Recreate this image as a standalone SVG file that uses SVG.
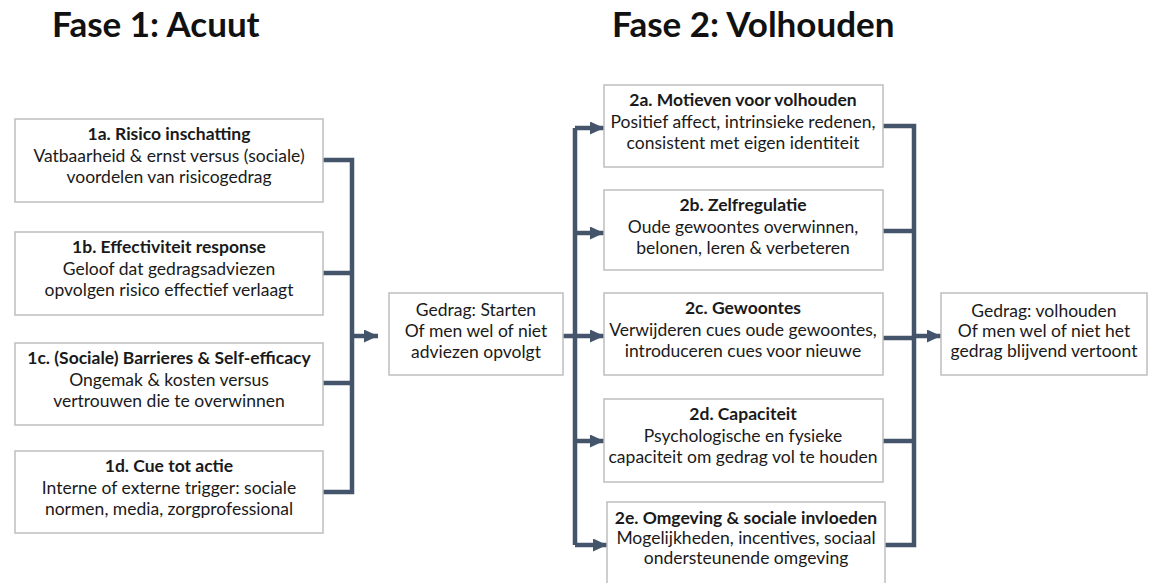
<svg xmlns="http://www.w3.org/2000/svg" width="1152" height="583" viewBox="0 0 1152 583">
<style>
.box{fill:#fff;stroke:#bfbfbf;stroke-width:1.5}
.t{font-family:Lato,"Open Sans",sans-serif;font-size:17.5px;fill:#1a1a1a;text-anchor:middle}
.b{font-weight:bold}
.h{font-family:Lato,"Open Sans",sans-serif;font-size:35px;font-weight:bold;fill:#111}
.c{fill:none;stroke:#44546a;stroke-width:4.5;stroke-linejoin:miter}
</style>
<defs>
<marker id="ah" markerUnits="userSpaceOnUse" markerWidth="14" markerHeight="13" refX="14" refY="6.5" orient="auto">
<path d="M0,0 L14,6.5 L0,13 z" fill="#44546a"/>
</marker>
</defs>
<rect width="1152" height="583" fill="#fff"/>
<text class="h" x="52" y="37">Fase 1: Acuut</text>
<text class="h" x="612" y="37">Fase 2: Volhouden</text>

<g id="connectors">
<path class="c" d="M323,160 H352 V492 H323"/>
<path class="c" d="M323,273 H352"/>
<path class="c" d="M323,383 H352"/>
<path class="c" d="M352,336 H378" marker-end="url(#ah)"/>
<path class="c" d="M563,336 H575"/>
<path class="c" d="M575,128 V545"/>
<path class="c" d="M575,128 H604" marker-end="url(#ah)"/>
<path class="c" d="M575,233 H604" marker-end="url(#ah)"/>
<path class="c" d="M575,336 H604" marker-end="url(#ah)"/>
<path class="c" d="M575,441 H604" marker-end="url(#ah)"/>
<path class="c" d="M575,545 H607" marker-end="url(#ah)"/>
<path class="c" d="M883,126 H914 V545 H885"/>
<path class="c" d="M883,231 H914"/>
<path class="c" d="M883,338 H914"/>
<path class="c" d="M883,441 H914"/>
<path class="c" d="M914,336 H941" marker-end="url(#ah)"/>
</g>

<g id="n1a">
<rect class="box" x="15" y="119" width="308" height="83"/>
<text class="t b" x="169" y="140">1a. Risico inschatting</text>
<text class="t" x="169" y="162">Vatbaarheid &amp; ernst versus (sociale)</text>
<text class="t" x="169" y="183">voordelen van risicogedrag</text>
</g>
<g id="n1b">
<rect class="box" x="15" y="232" width="308" height="83"/>
<text class="t b" x="169" y="253">1b. Effectiviteit response</text>
<text class="t" x="169" y="275">Geloof dat gedragsadviezen</text>
<text class="t" x="169" y="296">opvolgen risico effectief verlaagt</text>
</g>
<g id="n1c">
<rect class="box" x="15" y="343" width="308" height="82"/>
<text class="t b" x="169" y="364">1c. (Sociale) Barrieres &amp; Self-efficacy</text>
<text class="t" x="169" y="386">Ongemak &amp; kosten versus</text>
<text class="t" x="169" y="407">vertrouwen die te overwinnen</text>
</g>
<g id="n1d">
<rect class="box" x="15" y="451" width="308" height="82"/>
<text class="t b" x="169" y="472">1d. Cue tot actie</text>
<text class="t" x="169" y="494">Interne of externe trigger: sociale</text>
<text class="t" x="169" y="515">normen, media, zorgprofessional</text>
</g>
<g id="start">
<rect class="box" x="389" y="293" width="174" height="82"/>
<text class="t" x="476" y="316">Gedrag: Starten</text>
<text class="t" x="476" y="337">Of men wel of niet</text>
<text class="t" x="476" y="358">adviezen opvolgt</text>
</g>
<g id="n2a">
<rect class="box" x="604" y="85" width="279" height="82"/>
<text class="t b" x="743" y="106">2a. Motieven voor volhouden</text>
<text class="t" x="743" y="128">Positief affect, intrinsieke redenen,</text>
<text class="t" x="743" y="149">consistent met eigen identiteit</text>
</g>
<g id="n2b">
<rect class="box" x="604" y="190" width="279" height="80"/>
<text class="t b" x="743" y="211">2b. Zelfregulatie</text>
<text class="t" x="743" y="233">Oude gewoontes overwinnen,</text>
<text class="t" x="743" y="254">belonen, leren &amp; verbeteren</text>
</g>
<g id="n2c">
<rect class="box" x="604" y="293" width="279" height="82"/>
<text class="t b" x="743" y="314">2c. Gewoontes</text>
<text class="t" x="743" y="336">Verwijderen cues oude gewoontes,</text>
<text class="t" x="743" y="357">introduceren cues voor nieuwe</text>
</g>
<g id="n2d">
<rect class="box" x="604" y="399" width="279" height="83"/>
<text class="t b" x="743" y="420">2d. Capaciteit</text>
<text class="t" x="743" y="442">Psychologische en fysieke</text>
<text class="t" x="743" y="463">capaciteit om gedrag vol te houden</text>
</g>
<g id="n2e">
<rect class="box" x="607" y="502" width="278" height="90"/>
<text class="t b" x="746" y="524">2e. Omgeving &amp; sociale invloeden</text>
<text class="t" x="746" y="544">Mogelijkheden, incentives, sociaal</text>
<text class="t" x="746" y="564">ondersteunende omgeving</text>
</g>
<g id="volhouden">
<rect class="box" x="941" y="293" width="206" height="82"/>
<text class="t" x="1044" y="317">Gedrag: volhouden</text>
<text class="t" x="1044" y="337">Of men wel of niet het</text>
<text class="t" x="1044" y="357">gedrag blijvend vertoont</text>
</g>
</svg>
